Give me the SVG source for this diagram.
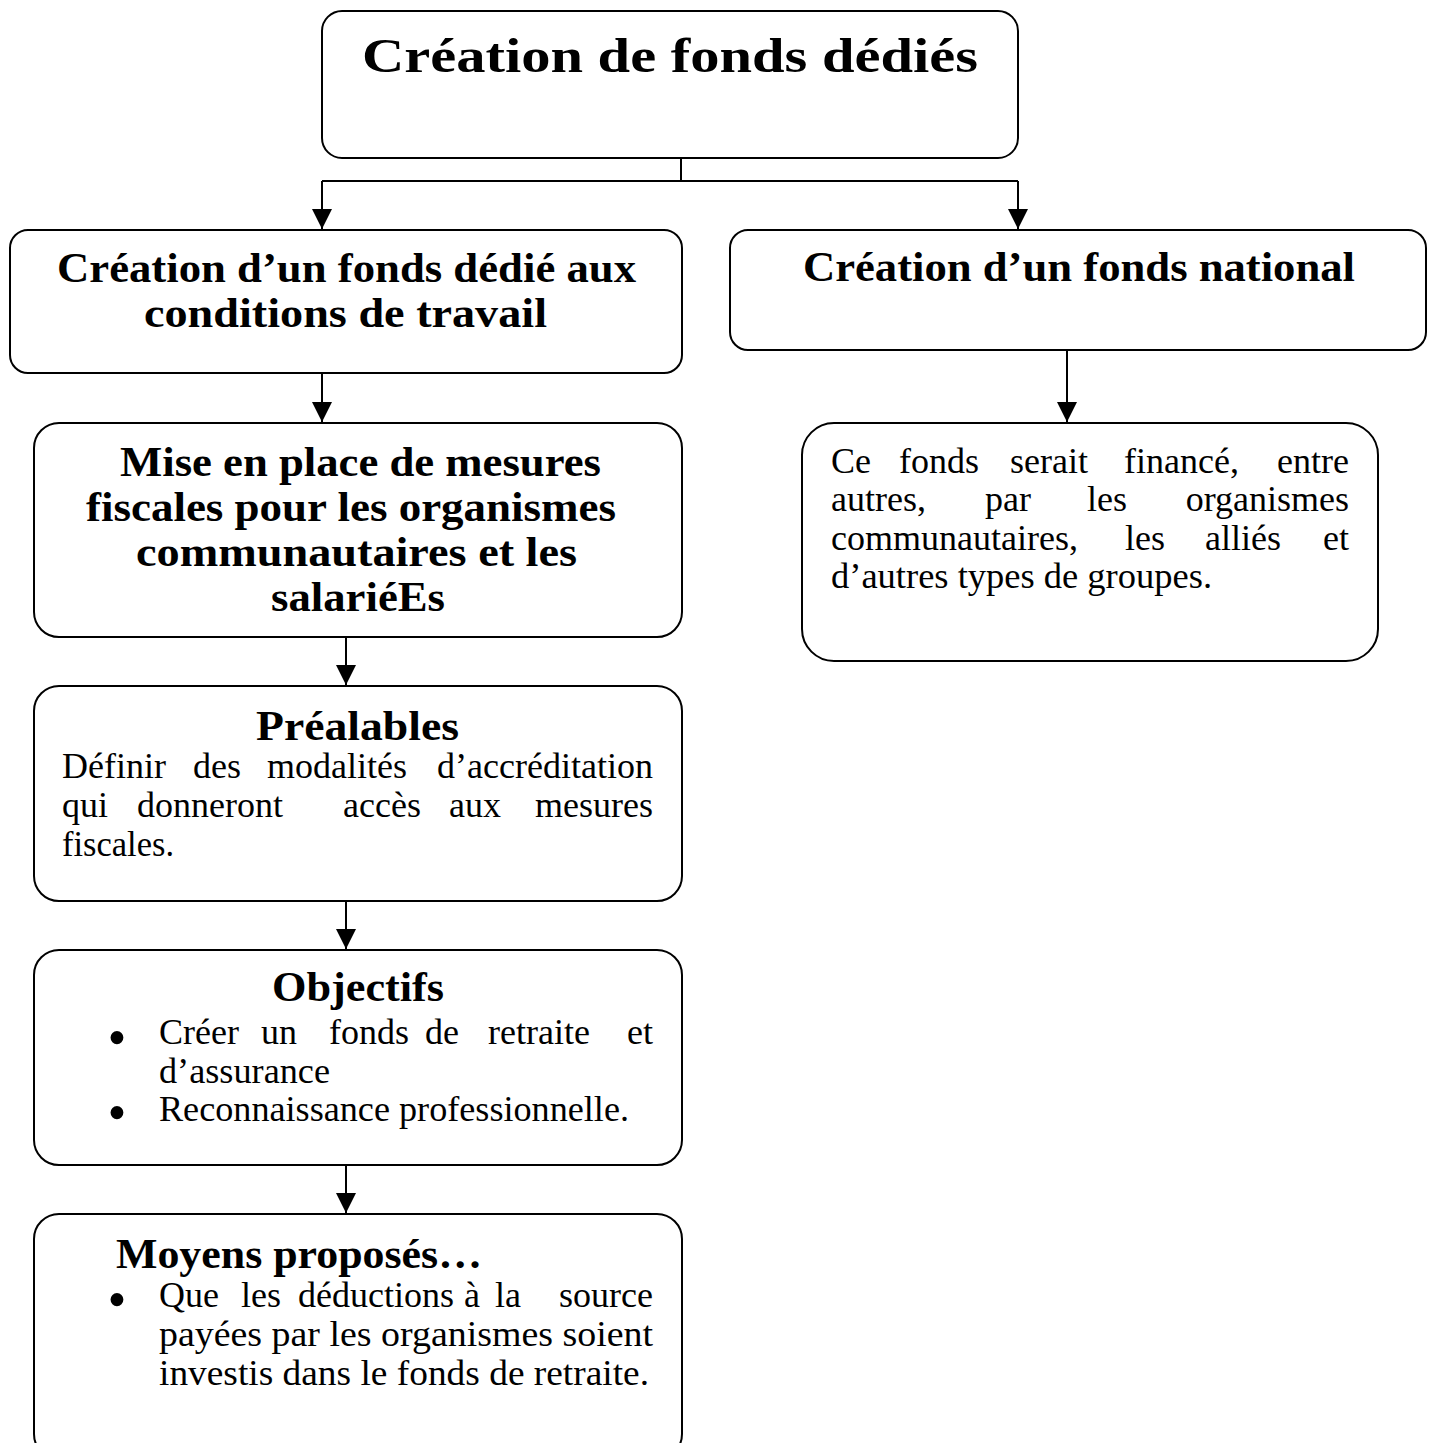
<svg xmlns="http://www.w3.org/2000/svg" width="1432" height="1443" viewBox="0 0 1432 1443">
<defs>
<style>
.box{fill:#fff;stroke:#000;stroke-width:2}
.b{font-family:"Liberation Serif","Times New Roman",serif;font-weight:bold;fill:#000}
.r{font-family:"Liberation Serif","Times New Roman",serif;font-size:36px;fill:#000}
.h{font-size:42px;text-anchor:middle}
.e{text-anchor:end}
.bl{font-family:"Liberation Serif","Times New Roman",serif;font-size:54px;text-anchor:middle;fill:#000}
.conn{fill:none;stroke:#000;stroke-width:2}
</style>
<marker id="arr" markerUnits="userSpaceOnUse" markerWidth="20" markerHeight="20" refX="20" refY="10" orient="auto" viewBox="0 0 20 20">
<path d="M0,0 L20,10 L0,20 z" fill="#000"/>
</marker>
</defs>
<rect width="1432" height="1443" fill="#fff"/>

<g id="connectors">
<path class="conn" d="M681,158 V181 M322,181 H1018"/>
<path class="conn" d="M322,181 V229" marker-end="url(#arr)"/>
<path class="conn" d="M1018,181 V229" marker-end="url(#arr)"/>
<path class="conn" d="M322,373 V422" marker-end="url(#arr)"/>
<path class="conn" d="M1067,350 V422" marker-end="url(#arr)"/>
<path class="conn" d="M346,637 V685" marker-end="url(#arr)"/>
<path class="conn" d="M346,901 V949" marker-end="url(#arr)"/>
<path class="conn" d="M346,1165 V1213" marker-end="url(#arr)"/>
</g>

<g id="n-top">
<rect class="box" x="322" y="11" width="696" height="147" rx="20"/>
<text class="b" x="670" y="72" font-size="48" text-anchor="middle" textLength="616" lengthAdjust="spacingAndGlyphs">Création de fonds dédiés</text>
</g>

<g id="n-travail">
<rect class="box" x="10" y="230" width="672" height="143" rx="18"/>
<text class="b h" x="346.5" y="282" textLength="579" lengthAdjust="spacingAndGlyphs">Création d’un fonds dédié aux</text>
<text class="b h" x="345.5" y="327" textLength="403" lengthAdjust="spacingAndGlyphs">conditions de travail</text>
</g>

<g id="n-national">
<rect class="box" x="730" y="230" width="696" height="120" rx="18"/>
<text class="b h" x="1079" y="281" textLength="552" lengthAdjust="spacingAndGlyphs">Création d’un fonds national</text>
</g>

<g id="n-finance">
<rect class="box" x="802" y="423" width="576" height="238" rx="32"/>
<text class="r" y="473"><tspan x="831">Ce</tspan><tspan x="899">fonds</tspan><tspan x="1010">serait</tspan><tspan x="1124">financé,</tspan></text>
<text class="r e" x="1349" y="473">entre</text>
<text class="r" y="511"><tspan x="831">autres,</tspan><tspan x="985">par</tspan><tspan x="1087">les</tspan></text>
<text class="r e" x="1349" y="511">organismes</text>
<text class="r" y="550"><tspan x="831">communautaires,</tspan><tspan x="1125">les</tspan><tspan x="1205">alliés</tspan></text>
<text class="r e" x="1349" y="550">et</text>
<text class="r" x="831" y="588" textLength="381" lengthAdjust="spacingAndGlyphs">d’autres types de groupes.</text>
</g>

<g id="n-mesures">
<rect class="box" x="34" y="423" width="648" height="214" rx="25"/>
<text class="b h" x="360.5" y="476" textLength="481" lengthAdjust="spacingAndGlyphs">Mise en place de mesures</text>
<text class="b h" x="351" y="521" textLength="530" lengthAdjust="spacingAndGlyphs">fiscales pour les organismes</text>
<text class="b h" x="356.5" y="566" textLength="441" lengthAdjust="spacingAndGlyphs">communautaires et les</text>
<text class="b h" x="358" y="611" textLength="174" lengthAdjust="spacingAndGlyphs">salariéEs</text>
</g>

<g id="n-prealables">
<rect class="box" x="34" y="686" width="648" height="215" rx="25"/>
<text class="b h" x="357.5" y="740" textLength="203" lengthAdjust="spacingAndGlyphs">Préalables</text>
<text class="r" y="778"><tspan x="62">Définir</tspan><tspan x="193">des</tspan><tspan x="267">modalités</tspan></text>
<text class="r e" x="653" y="778">d’accréditation</text>
<text class="r" y="817"><tspan x="62">qui</tspan><tspan x="137">donneront</tspan><tspan x="343">accès</tspan><tspan x="449">aux</tspan></text>
<text class="r e" x="653" y="817">mesures</text>
<text class="r" x="62" y="856" textLength="112" lengthAdjust="spacingAndGlyphs">fiscales.</text>
</g>

<g id="n-objectifs">
<rect class="box" x="34" y="950" width="648" height="215" rx="25"/>
<text class="b h" x="358" y="1001" textLength="172" lengthAdjust="spacingAndGlyphs">Objectifs</text>
<text class="bl" x="117" y="1056">•</text>
<text class="r" y="1044"><tspan x="159">Créer</tspan><tspan x="261">un</tspan><tspan x="329">fonds</tspan><tspan x="425">de</tspan><tspan x="488">retraite</tspan></text>
<text class="r e" x="653" y="1044">et</text>
<text class="r" x="159" y="1083" textLength="171" lengthAdjust="spacingAndGlyphs">d’assurance</text>
<text class="bl" x="117" y="1131">•</text>
<text class="r" x="159" y="1121" textLength="470" lengthAdjust="spacingAndGlyphs">Reconnaissance professionnelle.</text>
</g>

<g id="n-moyens">
<rect class="box" x="34" y="1214" width="648" height="245" rx="25"/>
<text class="b" x="116" y="1268" font-size="42" textLength="366" lengthAdjust="spacingAndGlyphs">Moyens proposés…</text>
<text class="bl" x="117" y="1318">•</text>
<text class="r" y="1307"><tspan x="159">Que</tspan><tspan x="241">les</tspan><tspan x="298">déductions</tspan><tspan x="464">à</tspan><tspan x="495">la</tspan></text>
<text class="r e" x="653" y="1307">source</text>
<text class="r" x="159" y="1346" textLength="494" lengthAdjust="spacingAndGlyphs">payées par les organismes soient</text>
<text class="r" x="159" y="1385" textLength="490" lengthAdjust="spacingAndGlyphs">investis dans le fonds de retraite.</text>
</g>
</svg>
